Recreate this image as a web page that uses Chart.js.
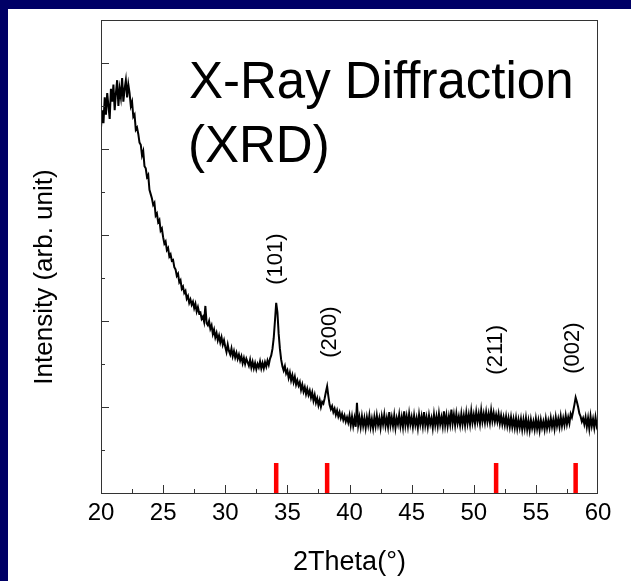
<!DOCTYPE html>
<html>
<head>
<meta charset="utf-8">
<title>XRD</title>
<script src="https://cdn.jsdelivr.net/npm/chart.js@4.4.1/dist/chart.umd.min.js"></script>
<style>
  html { background: #ffffff; }
  body { margin: 0; padding: 0; background: #ffffff; overflow: hidden; }
  #wrap { position: relative; width: 631px; height: 581px; overflow: hidden; background: #ffffff; }
  #xrd { position: absolute; left: 0; top: 0; background: #ffffff; }
  .navy-top { position: absolute; left: 0; top: 0; width: 631px; height: 9px; background: #000066; z-index: 2; }
  .navy-left { position: absolute; left: 0; top: 0; width: 8px; height: 581px; background: #000066; z-index: 2; }
</style>
</head>
<body>
<div id="wrap">
  <canvas id="xrd" width="631" height="581"></canvas>
  <div class="navy-top"></div>
  <div class="navy-left"></div>
</div>
<script>
// scan: 20..60 deg, 0.1 deg step (one row = one degree)
var thetaStart = 20;
var thetaStep = 0.1;
var intensity = [
  8.5, 8.9, 8.6, 9.2, 8.8, 9.3, 9.0, 8.7, 9.4, 9.1,
  9.5, 8.9, 9.3, 9.6, 9.0, 9.4, 9.2, 9.65, 9.1, 9.4,
  9.6, 9.2, 9.5, 9.3, 9.0, 9.1, 8.75, 8.8, 8.45, 8.5,
  8.35, 8.15, 8.1, 7.85, 7.95, 7.6, 7.55, 7.35, 7.4, 7.05,
  6.95, 6.85, 6.7, 6.75, 6.45, 6.5, 6.3, 6.35, 6.1, 6.15,
  5.95, 5.8, 5.85, 5.65, 5.7, 5.5, 5.55, 5.4, 5.42, 5.25,
  5.2, 5.05, 5.1, 4.9, 4.95, 4.75, 4.8, 4.65, 4.7, 4.52,
  4.58, 4.42, 4.5, 4.38, 4.45, 4.3, 4.4, 4.22, 4.32, 4.18,
  4.2, 4.05, 4.1, 3.98, 4.35, 3.95, 3.9, 4.0, 3.82, 3.9,
  3.7, 3.8, 3.62, 3.72, 3.55, 3.66, 3.5, 3.62, 3.45, 3.55,
  3.4, 3.28, 3.45, 3.3, 3.22, 3.36, 3.18, 3.3, 3.15, 3.26,
  3.12, 3.22, 3.08, 3.18, 3.02, 3.14, 3.0, 3.12, 3.04, 2.96,
  3.1, 2.92, 3.05, 2.9, 3.02, 2.88, 3.0, 2.92, 3.06, 2.9,
  3.02, 2.9, 3.04, 2.94, 3.08, 2.98, 3.12, 3.2, 3.35, 3.6,
  4.0, 4.42, 4.2, 3.7, 3.35, 3.1, 2.95, 2.85, 2.95, 2.78,
  2.85, 2.68, 2.8, 2.62, 2.74, 2.58, 2.7, 2.52, 2.62, 2.5,
  2.58, 2.4, 2.52, 2.36, 2.46, 2.3, 2.42, 2.28, 2.38, 2.22,
  2.34, 2.15, 2.28, 2.1, 2.2, 2.04, 2.16, 2.0, 2.12, 2.08,
  2.2, 2.35, 2.48, 2.25, 2.05, 1.95, 2.02, 1.88, 1.96, 1.82,
  1.92, 1.78, 1.88, 1.74, 1.84, 1.7, 1.8, 1.66, 1.76, 1.64,
  1.8, 1.58, 1.78, 1.56, 1.74, 1.54, 2.1, 1.58, 1.76, 1.54,
  1.78, 1.56, 1.74, 1.52, 1.76, 1.58, 1.8, 1.54, 1.72, 1.51,
  1.76, 1.56, 1.8, 1.58, 1.74, 1.52, 1.78, 1.6, 1.82, 1.56,
  1.74, 1.54, 1.88, 1.58, 1.76, 1.56, 1.8, 1.52, 1.74, 1.6,
  1.82, 1.56, 1.76, 1.54, 1.9, 1.58, 1.78, 1.56, 1.84, 1.6,
  1.76, 1.54, 1.8, 1.58, 1.74, 1.52, 1.82, 1.6, 1.78, 1.56,
  1.88, 1.58, 1.76, 1.54, 1.8, 1.6, 1.74, 1.52, 1.82, 1.58,
  1.78, 1.56, 1.84, 1.6, 1.76, 1.56, 1.9, 1.58, 1.8, 1.56,
  1.78, 1.6, 1.94, 1.62, 1.82, 1.58, 1.84, 1.62, 1.78, 1.58,
  1.84, 1.6, 1.8, 1.58, 1.86, 1.62, 1.82, 1.6, 1.9, 1.64,
  1.82, 1.62, 1.88, 1.66, 1.84, 1.62, 1.92, 1.66, 1.84, 1.64,
  1.88, 1.66, 1.84, 1.64, 1.92, 1.68, 1.86, 1.66, 1.82, 1.66,
  1.84, 1.62, 1.8, 1.6, 1.76, 1.58, 1.78, 1.56, 1.74, 1.54,
  1.76, 1.54, 1.72, 1.52, 1.74, 1.5, 1.7, 1.52, 1.72, 1.48,
  1.7, 1.5, 1.74, 1.48, 1.68, 1.46, 1.7, 1.51, 1.66, 1.48,
  1.72, 1.5, 1.68, 1.46, 1.7, 1.52, 1.66, 1.48, 1.72, 1.51,
  1.68, 1.52, 1.74, 1.54, 1.7, 1.5, 1.76, 1.56, 1.72, 1.54,
  1.78, 1.56, 1.74, 1.58, 1.8, 1.6, 1.76, 1.62, 1.84, 1.76,
  1.9, 2.05, 2.22, 2.12, 2.0, 1.85, 1.78, 1.66, 1.74, 1.6,
  1.76, 1.54, 1.74, 1.5, 1.78, 1.56, 1.72, 1.52, 1.76, 1.56,
  1.66
];

// reference (red) lines and peak labels
var refPos = [34.1, 38.2, 51.8, 58.2];
var refTop = 0.7;
var peakNames = ['(101)', '(200)', '(211)', '(002)'];
var peakLabelX = [34.1, 38.4, 51.8, 58.0];
var peakLabelY = [5.44, 3.74, 3.33, 3.37];

var FONT = '"Liberation Sans", Arial, sans-serif';

var scan = intensity.map(function(v, i) {
  return {x: +(thetaStart + i * thetaStep).toFixed(2), y: v};
});

var refData = [];
refPos.forEach(function(p) {
  refData.push({x: p, y: 0});
  refData.push({x: p, y: refTop});
  refData.push({x: p, y: null});
});

var decor = {
  id: 'decor',
  afterDatasetsDraw: function(chart) {
    var ctx = chart.ctx, a = chart.chartArea;
    var xs = chart.scales.x, ys = chart.scales.y;
    ctx.save();

    // frame
    ctx.strokeStyle = '#333';
    ctx.lineWidth = 1;
    ctx.strokeRect(Math.round(a.left) + 0.5, Math.round(a.top) + 0.5,
      Math.round(a.right - a.left) - 1, Math.round(a.bottom - a.top));

    // inward ticks
    ctx.beginPath();
    ys.ticks.forEach(function(t) {
      if (t.value <= ys.min || t.value >= ys.max) return;
      var py = Math.round(ys.getPixelForValue(t.value)) + 0.5;
      var len = t.value % 2 === 0 ? 8 : 4;
      ctx.moveTo(a.left, py);
      ctx.lineTo(a.left + len, py);
    });
    for (var v = xs.min + 2.5; v < xs.max; v += 2.5) {
      var px = Math.round(xs.getPixelForValue(v)) + 0.5;
      var l = v % 5 === 0 ? 8 : 4;
      ctx.moveTo(px, a.bottom);
      ctx.lineTo(px, a.bottom - l);
    }
    ctx.stroke();

    // peak labels
    ctx.fillStyle = '#000';
    ctx.font = '22px ' + FONT;
    ctx.textAlign = 'center';
    ctx.textBaseline = 'middle';
    peakNames.forEach(function(name, i) {
      ctx.save();
      ctx.translate(xs.getPixelForValue(peakLabelX[i]), ys.getPixelForValue(peakLabelY[i]));
      ctx.rotate(-Math.PI / 2);
      ctx.fillText(name, 0, 0);
      ctx.restore();
    });

    // y axis title
    ctx.save();
    ctx.font = '26px ' + FONT;
    ctx.translate(45, 277);
    ctx.rotate(-Math.PI / 2);
    ctx.fillText('Intensity (arb. unit)', 0, 0);
    ctx.restore();

    // big heading
    ctx.font = '51px ' + FONT;
    ctx.textAlign = 'left';
    ctx.textBaseline = 'alphabetic';
    ctx.fillText('X-Ray Diffraction', 189, 98);
    ctx.fillText('(XRD)', 188, 162);

    ctx.restore();
  }
};

new Chart(document.getElementById('xrd'), {
  type: 'line',
  data: {
    datasets: [{
      label: 'XRD',
      data: scan,
      borderColor: '#000',
      borderWidth: 2,
      pointRadius: 0,
      tension: 0
    }, {
      label: 'ref',
      data: refData,
      borderColor: '#ff0000',
      borderWidth: 4.5,
      borderCapStyle: 'butt',
      pointRadius: 0,
      spanGaps: false
    }]
  },
  options: {
    responsive: false,
    animation: false,
    devicePixelRatio: 1,
    layout: { padding: { top: 20, right: 33, left: 0, bottom: 0 } },
    plugins: {
      legend: { display: false },
      tooltip: { enabled: false }
    },
    scales: {
      x: {
        type: 'linear',
        min: 20,
        max: 60,
        grid: { display: false, drawTicks: false },
        border: { display: false },
        ticks: {
          stepSize: 5,
          padding: 6,
          color: '#000',
          font: { family: FONT, size: 24 }
        },
        title: {
          display: true,
          text: '2Theta(°)',
          color: '#000',
          font: { family: FONT, size: 27 },
          padding: { top: 0, bottom: 2 }
        },
        afterFit: function(s) { s.height = 88; }
      },
      y: {
        min: 0,
        max: 11,
        grid: { display: false, drawTicks: false },
        border: { display: false },
        ticks: { stepSize: 1, display: false },
        afterFit: function(s) { s.width = 101; }
      }
    }
  },
  plugins: [decor]
});
</script>
</body>
</html>
